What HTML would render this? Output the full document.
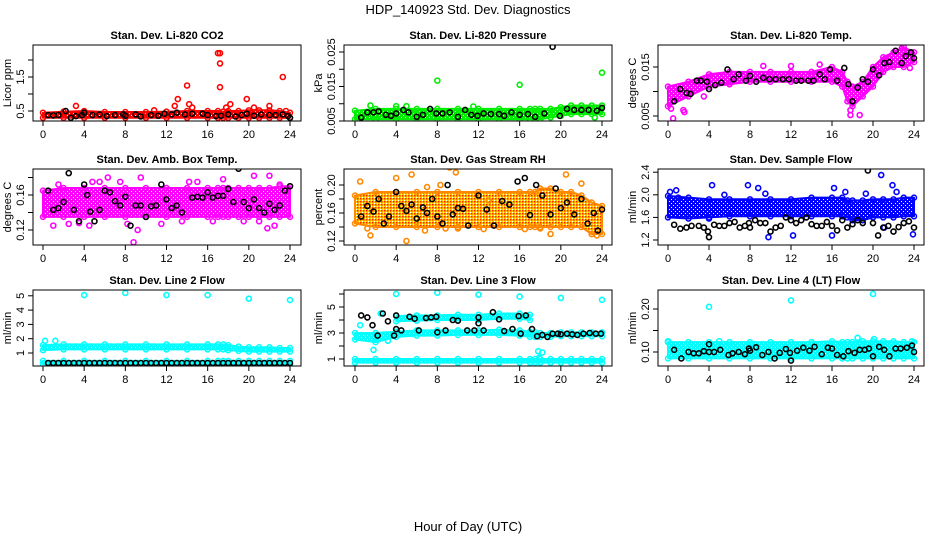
<!DOCTYPE html>
<html><head><meta charset="utf-8"><style>
body{margin:0;background:#fff;}
svg{display:block;font-family:"Liberation Sans",sans-serif;}
</style></head><body>
<svg id="chart" width="936" height="540" viewBox="0 0 936 540" xmlns="http://www.w3.org/2000/svg">
<defs id="defs">
<pattern id="rhPat" width="3" height="3" patternUnits="userSpaceOnUse"><rect width="3" height="3" fill="#ffcc00"/><rect x="0" y="0" width="1.5" height="1.5" fill="#ff2200"/><rect x="2" y="2" width="1" height="1" fill="#fff"/></pattern>
</defs>
<text x="468" y="14" text-anchor="middle" font-size="13">HDP_140923  Std. Dev. Diagnostics</text>
<text x="468" y="531" text-anchor="middle" font-size="13">Hour of Day (UTC)</text>
<g id="panels"></g>
</svg>
<script>
// ---- data arrays ----
const bandHours = [0,2,4,6,8,10,12,14,16,17,17.5,18,19,20,21,22,23,24];
// Panel 1: CO2
const co2Low  = [0.3,0.3,0.3,0.3,0.3,0.3,0.3,0.3,0.3,0.3,0.3,0.3,0.3,0.3,0.3,0.3,0.3,0.3];
const co2High = [0.45,0.48,0.5,0.47,0.47,0.47,0.48,0.5,0.5,0.5,0.48,0.5,0.5,0.52,0.52,0.52,0.5,0.45];
const co2Xs = [3.2,12.8,13.1,14,14.2,14.5,17,17.2,17.2,17.2,17.8,18.2,19.8,20.5,22,23.3,23.6,10.8];
const co2Ys = [0.65,0.65,0.85,1.25,0.7,0.6,2.2,2.2,1.9,1.2,0.6,0.7,0.85,0.6,0.65,1.5,0.5,0.52];
const co2Bx = [0.5,1,1.5,2.2,2.7,3.2,3.8,4,4.8,5.5,6.2,7,7.8,8,9,9.5,10.5,11.2,11.8,12.5,13,13.8,14.5,15.5,16,16.8,17.3,18,18.7,19.3,19.8,20.5,21.2,22,22.6,23.3,23.8,24];
const co2By = [0.38,0.37,0.38,0.5,0.3,0.35,0.38,0.45,0.38,0.4,0.35,0.38,0.4,0.36,0.4,0.34,0.38,0.36,0.42,0.4,0.45,0.4,0.42,0.42,0.38,0.35,0.36,0.4,0.34,0.38,0.42,0.36,0.4,0.38,0.38,0.4,0.35,0.3];
// Panel 2: Pressure
const prLow  = [0.0055,0.0055,0.0055,0.0055,0.0055,0.0055,0.0055,0.0055,0.0055,0.0055,0.0055,0.0055,0.006,0.0065,0.007,0.007,0.007,0.007];
const prHigh = [0.008,0.0085,0.0085,0.0085,0.0085,0.0085,0.0085,0.0085,0.0085,0.0085,0.0085,0.0085,0.0085,0.009,0.0095,0.0095,0.0095,0.0095];
const prXs = [8,16,24,1.5,4,5,11.5,23.3];
const prYs = [0.0167,0.0155,0.019,0.0095,0.0093,0.0093,0.0092,0.006];
const prBx = [0.6,1.2,1.8,2.3,3,3.5,4,4.7,5.2,6,6.6,7.3,7.9,8.5,9.2,10,10.7,11.3,11.9,12.5,13.2,14,14.5,15.2,16,16.8,17.5,18.4,19.2,19.9,20.6,21.3,22,22.7,23.5,24];
const prBy = [0.006,0.0075,0.0075,0.0078,0.0068,0.0065,0.0072,0.0082,0.0075,0.0062,0.0068,0.0085,0.0072,0.0072,0.0075,0.0062,0.0082,0.0068,0.0065,0.0072,0.007,0.007,0.0065,0.0075,0.0068,0.007,0.0062,0.0072,0.0265,0.0065,0.0085,0.0082,0.0082,0.0082,0.008,0.0088];
// Panel 3: Li-820 Temp
const tpLow  = [0.007,0.009,0.011,0.0115,0.012,0.012,0.012,0.012,0.012,0.011,0.008,0.007,0.009,0.011,0.014,0.015,0.015,0.016];
const tpHigh = [0.011,0.012,0.0135,0.014,0.014,0.014,0.014,0.014,0.015,0.014,0.012,0.011,0.012,0.015,0.017,0.018,0.019,0.018];
const tpXs = [0.3,0.5,1.5,1.6,3.5,6,9.3,12,14.8,17.8,17.8,18.7,22.8,23.6];
const tpYs = [0.0065,0.0045,0.0062,0.0058,0.009,0.0115,0.0152,0.0152,0.0155,0.0062,0.0052,0.0052,0.0188,0.0148];
const tpBx = [0.6,1.2,1.8,2.2,2.8,3.2,3.8,4,4.6,5.2,5.8,6.4,6.9,7.6,8,8.6,9.3,9.9,10.5,11.2,11.8,12.5,13,13.7,14.2,14.8,15.3,15.8,16.5,17.2,17.6,18,18.5,19,19.5,20,20.6,21.1,21.6,22.2,22.8,23.2,23.7,24];
const tpBy = [0.008,0.0105,0.0097,0.0095,0.0122,0.0122,0.012,0.0105,0.0113,0.0118,0.0145,0.0125,0.0135,0.0122,0.0132,0.012,0.0128,0.0125,0.0125,0.0125,0.0125,0.0122,0.0122,0.0122,0.0122,0.0135,0.0125,0.0145,0.0122,0.0148,0.0115,0.008,0.0108,0.0125,0.012,0.0145,0.0133,0.0158,0.016,0.0183,0.0158,0.0172,0.018,0.0168];
// Panel 4: Amb Box Temp
const abLow  = [0.135,0.135,0.135,0.135,0.135,0.135,0.135,0.135,0.135,0.135,0.135,0.135,0.135,0.135,0.135,0.135,0.135,0.135];
const abHigh = [0.165,0.168,0.168,0.168,0.168,0.168,0.168,0.168,0.168,0.168,0.168,0.168,0.168,0.168,0.168,0.168,0.17,0.17];
const abXs = [1,2.5,3.5,4.5,5.5,6.3,7.5,8.2,9.2,9.5,11.5,13.5,14.2,15,16.5,17.5,19.5,20.5,21,22,22.5,23,8.8,4.8,1.5,21.8];
const abYs = [0.125,0.127,0.128,0.125,0.175,0.18,0.175,0.127,0.12,0.18,0.127,0.13,0.175,0.175,0.13,0.178,0.13,0.182,0.13,0.182,0.125,0.172,0.106,0.175,0.172,0.122];
const abBx = [0.5,1,1.5,2,2.5,3,3.5,4,4.3,4.6,5,5.5,6,6.5,7,7.5,8,8.5,9,9.5,10,10.5,11,11.5,12,12.5,13,13.5,14,14.5,15,15.5,16,16.5,17,17.5,18,18.5,19,19.5,20,20.5,21,21.5,22,22.5,23,23.5,24];
const abBy = [0.165,0.143,0.145,0.152,0.185,0.143,0.13,0.172,0.16,0.141,0.13,0.143,0.165,0.163,0.153,0.148,0.158,0.125,0.148,0.148,0.135,0.147,0.148,0.172,0.155,0.145,0.148,0.14,0.195,0.157,0.158,0.157,0.163,0.157,0.159,0.159,0.167,0.152,0.19,0.152,0.145,0.155,0.145,0.14,0.15,0.143,0.148,0.165,0.17];
// Panel 5: Gas Stream RH
const rhLow  = [0.145,0.14,0.14,0.14,0.14,0.14,0.14,0.14,0.14,0.14,0.14,0.14,0.14,0.14,0.14,0.14,0.13,0.13];
const rhHigh = [0.185,0.19,0.19,0.19,0.19,0.19,0.19,0.19,0.19,0.19,0.19,0.195,0.195,0.19,0.19,0.185,0.175,0.17];
const rhXs = [0.5,1.2,1.5,4,5,5.5,7,8.8,9.2,9.8,10,12.5,13,16.5,18,19,20.5,22,23,23.5,6.8,8.3];
const rhYs = [0.205,0.138,0.128,0.21,0.12,0.215,0.197,0.138,0.225,0.218,0.138,0.137,0.178,0.137,0.138,0.13,0.215,0.202,0.13,0.128,0.135,0.2];
const rhBx = [0.6,1.2,1.8,2.3,2.8,3.3,4,4.5,5,5.5,6,6.6,7,7.5,8,8.5,9,9.5,10,10.5,11,12,12.8,13.5,14.3,15,15.8,16.5,17,17.6,18.2,19,19.5,20,20.6,21.3,22,22.6,23.2,23.6,24];
const rhBy = [0.155,0.17,0.162,0.18,0.145,0.155,0.19,0.17,0.163,0.172,0.152,0.168,0.16,0.18,0.155,0.145,0.2,0.158,0.167,0.166,0.142,0.185,0.165,0.142,0.177,0.172,0.205,0.21,0.157,0.2,0.185,0.158,0.195,0.167,0.175,0.158,0.18,0.145,0.16,0.135,0.165];
// Panel 6: Sample Flow
const sfLow  = [1.6,1.58,1.6,1.62,1.62,1.62,1.62,1.62,1.62,1.62,1.6,1.55,1.55,1.6,1.6,1.6,1.62,1.62];
const sfHigh = [1.98,1.95,1.92,1.92,1.92,1.92,1.92,1.95,1.95,1.95,1.9,1.9,1.9,1.92,1.92,1.92,1.95,1.95];
const sfXs = [0.2,0.8,4.3,4,7.8,8.8,9.8,12.2,16,16.2,17.3,19.3,20.8,21.1,21.9,22.3,23.9,1,5.5,9.5];
const sfYs = [2.05,2.08,2.17,1.58,2.17,2.12,1.25,1.28,1.28,2.12,2.05,2.02,2.35,1.42,2.17,2.05,1.3,1.95,2.0,2.02];
const sfBx = [0.6,1.2,1.8,2.3,3,3.5,3.9,4,4.5,5,5.5,6,6.5,7,7.5,7.9,8,8.5,9,9.5,10,10.5,11,11.5,12,12.5,13,13.5,14,14.5,15,15.5,16,16.5,17,17.5,18,18.5,19,19.5,20,20.5,21,21.5,22,22.5,23,23.5,24];
const sfBy = [1.47,1.4,1.42,1.45,1.45,1.42,1.35,1.25,1.47,1.45,1.45,1.5,1.52,1.42,1.45,1.5,1.42,1.55,1.5,1.5,1.35,1.42,1.45,1.6,1.55,1.5,1.55,1.6,1.48,1.45,1.45,1.52,1.45,1.37,1.55,1.42,1.48,1.55,1.5,2.43,1.5,1.28,1.42,1.45,1.35,1.43,1.5,1.53,1.42];
// Panel 7: Line 2 Flow
const l2Low  = [1.2,1.25,1.25,1.25,1.25,1.25,1.25,1.25,1.25,1.25,1.25,1.2,1.15,1.1,1.1,1.1,1.1,1.1];
const l2High = [1.55,1.6,1.6,1.6,1.6,1.6,1.6,1.6,1.6,1.6,1.6,1.55,1.45,1.4,1.4,1.4,1.35,1.35];
const l2Xs = [4,8,12,16,20,24,0.2,1.2];
const l2Ys = [5.05,5.2,5.05,5.05,4.8,4.7,1.85,1.85];
const l2LineLow  = [0.22,0.22,0.22,0.22,0.22,0.22,0.22,0.22,0.22,0.22,0.22,0.22,0.22,0.22,0.22,0.22,0.22,0.22];
const l2LineHigh = [0.45,0.45,0.45,0.45,0.45,0.45,0.45,0.45,0.45,0.45,0.45,0.45,0.45,0.45,0.45,0.45,0.45,0.45];
const l2Bx = [0.5,1,1.5,2,2.5,3,3.5,4,4.5,5,5.5,6,6.5,7,7.5,8,8.5,9,9.5,10,10.5,11,11.5,12,12.5,13,13.5,14,14.5,15,15.5,16,16.5,17,17.5,18,18.5,19,19.5,20,20.5,21,21.5,22,22.5,23,23.5,24];
const l2By = [0.3,0.3,0.3,0.3,0.3,0.3,0.3,0.3,0.3,0.3,0.3,0.3,0.3,0.3,0.3,0.3,0.3,0.3,0.3,0.3,0.3,0.3,0.3,0.3,0.3,0.3,0.3,0.3,0.3,0.3,0.3,0.3,0.3,0.3,0.3,0.3,0.3,0.3,0.3,0.3,0.3,0.3,0.3,0.3,0.3,0.3,0.3,0.3];
// Panel 8: Line 3 Flow
const l3LowA  = [0.72,0.72,0.72,0.72,0.72,0.72,0.72,0.72,0.72,0.72,0.72,0.72,0.72,0.72,0.72,0.72,0.72,0.72];
const l3HighA = [1.0,1.0,1.0,1.0,1.0,1.0,1.0,1.0,1.0,1.0,1.0,1.0,1.0,1.0,1.0,1.0,1.0,1.0];
const l3LowB  = [2.5,2.3,2.7,2.8,2.8,2.85,2.85,2.85,2.8,2.7,2.7,2.7,2.7,2.75,2.75,2.75,2.75,2.75];
const l3HighB = [3.0,3.0,3.1,3.2,3.2,3.2,3.2,3.25,3.2,3.1,3.05,3.0,3.0,3.05,3.05,3.05,3.05,3.05];
const l3BandCHours = [4,6,8,10,12,14,16,17];
const l3LowC  = [3.9,3.95,4.0,4.0,4.0,4.1,4.1,4.0];
const l3HighC = [4.3,4.35,4.35,4.4,4.4,4.5,4.5,4.4];
const l3Xs = [4,8,12,16,20,24,0.5,2.5,1.8,3.2,17.8,18.2,17.9];
const l3Ys = [6.0,6.1,5.95,5.8,5.7,5.55,3.6,4.5,1.7,2.4,1.6,1.5,1.1];
const l3Bx = [0.6,1.2,1.7,2.2,2.7,3.2,3.8,4,4,4.5,5.3,5.8,6.2,6.9,7.4,7.9,8,8.8,9.5,10,10.9,11.6,12,12,12.5,13.4,14,14.5,15.3,15.9,16.1,16.6,17.2,17.7,18.2,18.7,19.2,19.7,20,20.6,21.1,21.6,22.2,22.8,23.4,23.9];
const l3By = [4.35,4.2,3.6,2.8,4.5,3.9,2.8,3.3,4.35,3.2,4.25,4.1,3.2,4.15,4.2,4.25,3.05,3.2,4.0,3.95,3.2,3.2,4.2,3.75,3.2,4.6,4.05,3.15,3.3,4.3,2.95,4.35,3.3,2.75,2.85,2.7,2.95,2.95,2.9,2.95,2.9,2.85,2.95,3.0,2.95,2.95];
// Panel 9: Line 4 (LT) Flow
const l4Low  = [0.085,0.085,0.085,0.085,0.085,0.085,0.085,0.085,0.085,0.085,0.085,0.085,0.085,0.085,0.085,0.085,0.085,0.085];
const l4High = [0.123,0.123,0.123,0.123,0.123,0.123,0.123,0.123,0.125,0.123,0.123,0.123,0.125,0.125,0.125,0.125,0.123,0.123];
const l4Xs = [4,12,20,18.5,5,0,23.8,20.1];
const l4Ys = [0.205,0.22,0.235,0.133,0.125,0.125,0.125,0.13];
const l4Bx = [0.6,1.3,2,2.5,3,3.5,4,4,4.5,5.1,5.9,6.3,6.9,7.5,7.9,8,8.6,9.2,9.8,10.4,10.9,11.5,11.9,12,12.6,13.2,13.8,14.3,15,15.6,16,16.5,17.1,17.6,18.2,18.7,19.2,19.6,20,20.6,21.1,21.6,22.2,22.7,23.3,23.8,24];
const l4By = [0.105,0.085,0.1,0.097,0.097,0.102,0.118,0.1,0.1,0.105,0.093,0.097,0.1,0.095,0.108,0.103,0.111,0.093,0.1,0.085,0.098,0.107,0.098,0.08,0.103,0.11,0.103,0.112,0.095,0.11,0.108,0.093,0.09,0.102,0.098,0.105,0.105,0.108,0.09,0.112,0.105,0.09,0.108,0.108,0.11,0.115,0.1];

const xTicks = [0,4,8,12,16,20,24];

// ---- layout ----
const panels = [
 {name:'co2',title:'Stan. Dev. Li-820 CO2',yt:'Licor ppm',box:[33,45,301,121],x0:43,x24:290,v0:0.5,p0:111,ppu:34,ticks:[0.5,1,1.5,2],labels:['0.5','','1.5',''],col:'#ff0000',
  bands:[[bandHours,co2Low,co2High]],pts:[co2Xs,co2Ys],blk:[co2Bx,co2By]},
 {name:'pressure',title:'Stan. Dev. Li-820 Pressure',yt:'kPa',box:[344,45,612,121],x0:355,x24:602,v0:0.005,p0:121,ppu:3450,ticks:[0.005,0.01,0.015,0.02,0.025],labels:['0.005','','0.015','','0.025'],col:'#00ee00',
  bands:[[bandHours,prLow,prHigh]],pts:[prXs,prYs],blk:[prBx,prBy]},
 {name:'temp',title:'Stan. Dev. Li-820 Temp.',yt:'degrees C',box:[658,45,924,121],x0:668,x24:914,v0:0.005,p0:116,ppu:4900,ticks:[0.005,0.01,0.015],labels:['0.005','','0.015'],col:'#ff00ff',
  bands:[[bandHours,tpLow,tpHigh]],pts:[tpXs,tpYs],blk:[tpBx,tpBy]},
 {name:'amb-box-temp',title:'Stan. Dev. Amb. Box Temp.',yt:'degrees C',box:[33,169,301,245],x0:43,x24:290,v0:0.12,p0:230,ppu:875,ticks:[0.12,0.14,0.16,0.18],labels:['0.12','','0.16',''],col:'#ff00ff',
  bands:[[bandHours,abLow,abHigh]],pts:[abXs,abYs],blk:[abBx,abBy]},
 {name:'gas-rh',title:'Stan. Dev. Gas Stream RH',yt:'percent',box:[344,169,612,245],x0:355,x24:602,v0:0.12,p0:241,ppu:700,ticks:[0.12,0.14,0.16,0.18,0.2],labels:['0.12','','0.16','','0.20'],col:'#ff8800',fill:'url(#rhPat)',
  bands:[[bandHours,rhLow,rhHigh]],pts:[rhXs,rhYs],blk:[rhBx,rhBy]},
 {name:'sample-flow',title:'Stan. Dev. Sample Flow',yt:'ml/min',box:[658,169,924,245],x0:668,x24:914,v0:1.2,p0:240,ppu:56.5,ticks:[1.2,1.6,2.0,2.4],labels:['1.2','1.6','2.0','2.4'],col:'#0000ff',
  bands:[[bandHours,sfLow,sfHigh]],pts:[sfXs,sfYs],blk:[sfBx,sfBy]},
 {name:'line2-flow',title:'Stan. Dev. Line 2 Flow',yt:'ml/min',box:[33,290,301,366],x0:43,x24:290,v0:1,p0:353,ppu:14.3,ticks:[1,2,3,4,5],labels:['1','2','3','4','5'],col:'#00ffff',
  bands:[[bandHours,l2Low,l2High],[bandHours,l2LineLow,l2LineHigh]],pts:[l2Xs,l2Ys],blk:[l2Bx,l2By]},
 {name:'line3-flow',title:'Stan. Dev. Line 3 Flow',yt:'ml/min',box:[344,290,612,366],x0:355,x24:602,v0:1,p0:359,ppu:13,ticks:[1,2,3,4,5,6],labels:['1','','3','','5',''],col:'#00ffff',
  bands:[[bandHours,l3LowA,l3HighA],[bandHours,l3LowB,l3HighB],[l3BandCHours,l3LowC,l3HighC]],pts:[l3Xs,l3Ys],blk:[l3Bx,l3By]},
 {name:'line4-flow',title:'Stan. Dev. Line 4 (LT) Flow',yt:'ml/min',box:[658,290,924,366],x0:668,x24:914,v0:0.1,p0:352,ppu:430,ticks:[0.1,0.15,0.2],labels:['0.10','','0.20'],col:'#00ffff',
  bands:[[bandHours,l4Low,l4High]],pts:[l4Xs,l4Ys],blk:[l4Bx,l4By]}
];

const NS='http://www.w3.org/2000/svg';
const root=document.getElementById('panels');
const defs=document.getElementById('defs');
function mk(tag,attrs,parent){const e=document.createElementNS(NS,tag);for(const k in attrs)e.setAttribute(k,attrs[k]);parent.appendChild(e);return e;}

panels.forEach(p=>{
  const g=mk('g',{},root);
  
  
  const [L,T,R,B]=p.box;
  const xs=h=>p.x0+h*(p.x24-p.x0)/24;
  const ys=v=>p.p0-(v-p.v0)*p.ppu;
  let fill=p.fill;
  if(!fill){
    const pat=mk('pattern',{id:'pat-'+p.name,width:4,height:4,patternUnits:'userSpaceOnUse'},defs);
    mk('rect',{width:4,height:4,fill:p.col},pat);
    mk('rect',{x:1,y:1,width:1,height:1,fill:'#fff'},pat);
    mk('rect',{x:3,y:3,width:1,height:1,fill:'#fff'},pat);
    fill='url(#pat-'+p.name+')';
  }
  const clipId='clip-'+p.name;
  const cp=mk('clipPath',{id:clipId},g);mk('rect',{x:L,y:T,width:R-L,height:B-T},cp);
  const data=mk('g',{'clip-path':'url(#'+clipId+')'},g);
  p.bands.forEach(([hs,lo,hi])=>{
    let d='M'+hs.map((h,i)=>xs(h).toFixed(1)+','+ys(hi[i]).toFixed(1)).join('L');
    d+='L'+hs.map((h,i)=>[h,i]).reverse().map(([h,i])=>xs(h).toFixed(1)+','+ys(lo[i]).toFixed(1)).join('L')+'Z';
    const band=mk('path',{d:d,fill:fill,stroke:p.col,'stroke-width':2,'stroke-linejoin':'round'},data);
    
    
    hs.forEach((h,i)=>{
      [lo[i],hi[i]].forEach(v=>{
        const c=mk('circle',{cx:xs(h),cy:ys(v),r:2.5,fill:'none',stroke:p.col,'stroke-width':1.5},data);
        
        
      });
    });
  });
  p.pts[0].forEach((h,i)=>{
    const c=mk('circle',{cx:xs(h),cy:ys(p.pts[1][i]),r:2.5,fill:'none',stroke:p.col,'stroke-width':1.6},data);
    
    
  });
  p.blk[0].forEach((h,i)=>{
    const c=mk('circle',{cx:xs(h),cy:ys(p.blk[1][i]),r:2.5,fill:'none',stroke:'#000','stroke-width':1.6},data);
    
    
  });
  const box=mk('rect',{x:L,y:T,width:R-L,height:B-T,fill:'none',stroke:'#000','stroke-width':1},g);
  
  
  const t=mk('text',{x:(L+R)/2,y:T-6,'text-anchor':'middle','font-size':11,'font-weight':'bold'},g);t.textContent=p.title;
  
  
  mk('line',{x1:xs(0),x2:xs(24),y1:B,y2:B,stroke:'#000'},g);
  xTicks.forEach(h=>{
    mk('line',{x1:xs(h),x2:xs(h),y1:B,y2:B+5,stroke:'#000'},g);
    const tl=mk('text',{x:xs(h),y:B+17,'text-anchor':'middle','font-size':11},g);tl.textContent=h;
    
    
  });
  p.ticks.forEach((v,i)=>{
    mk('line',{x1:L-5,x2:L,y1:ys(v),y2:ys(v),stroke:'#000'},g);
    if(p.labels[i]){
      const yl=mk('text',{x:L-9,y:ys(v),'text-anchor':'middle','font-size':11,transform:'rotate(-90 '+(L-9)+' '+ys(v)+')'},g);yl.textContent=p.labels[i];
      
      
    }
  });
  const yt=mk('text',{x:L-22,y:(T+B)/2,'text-anchor':'middle','font-size':11,transform:'rotate(-90 '+(L-22)+' '+((T+B)/2)+')'},g);yt.textContent=p.yt;
  
  
});
</script>
</body></html>
